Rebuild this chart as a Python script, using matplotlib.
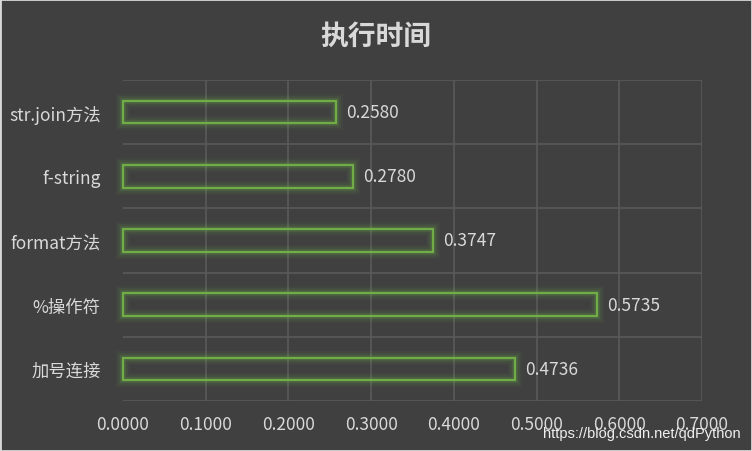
import matplotlib.pyplot as plt
import matplotlib.patheffects as pe
from matplotlib.patches import Rectangle

plt.rcParams['font.family'] = ['Noto Sans CJK SC', 'DejaVu Sans']

# ===== 数据 =====
methods = ["str.join方法", "f-string", "format方法", "%操作符", "加号连接"]
times = [0.2580, 0.2780, 0.3747, 0.5735, 0.4736]
xticks = [0.0, 0.1, 0.2, 0.3, 0.4, 0.5, 0.6, 0.7]

bg = "#404040"
grid = "#5a5a5a"
txt = "#d9d9d9"
green = "#70ad47"

fig = plt.figure(figsize=(7.52, 4.52), dpi=100, facecolor=bg)
fig.patches.append(Rectangle((0, 0), 1, 1, transform=fig.transFigure,
                             fill=False, edgecolor="#d9d9d9", linewidth=2))
ax = fig.add_axes([123 / 752, 50 / 452, 579 / 752, 321 / 452])
ax.set_facecolor(bg)

ypos = list(range(len(methods)))[::-1]
bars = ax.barh(ypos, times, height=0.35, facecolor="none",
               edgecolor=green, linewidth=1.6, zorder=3)
for b in bars:
    b.set_clip_on(False)
    b.set_path_effects([
        pe.Stroke(linewidth=10, foreground=green, alpha=0.06),
        pe.Stroke(linewidth=7, foreground=green, alpha=0.10),
        pe.Stroke(linewidth=4, foreground=green, alpha=0.18),
        pe.Normal(),
    ])

for y, v in zip(ypos, times):
    ax.text(v + 0.012, y, f"{v:.4f}", va="center", ha="left",
            color=txt, fontsize=12.5)

ax.set_xlim(0, 0.7)
ax.set_ylim(-0.5, len(methods) - 0.5)
ax.set_xticks(xticks)
ax.set_xticklabels([f"{t:.4f}" for t in xticks], color=txt, fontsize=12.5)
ax.set_yticks(ypos)
ax.set_yticklabels(methods, color=txt, fontsize=12.5)
ax.tick_params(axis="y", length=0, pad=16)
ax.tick_params(axis="x", length=0, pad=10)

for t in xticks[1:]:
    ax.axvline(t, color=grid, linewidth=1.2, zorder=1)
for k in range(len(methods) + 1):
    ax.axhline(k - 0.5, color=grid, linewidth=1.2, zorder=1)
for s in ax.spines.values():
    s.set_visible(False)

fig.text(0.5, 0.918, "执行时间", ha="center", va="center",
         color=txt, fontsize=20, fontweight="bold")
fig.text(0.985, 0.04, "https://blog.csdn.net/qdPython", ha="right",
         va="center", color="#f0f0f0", fontsize=10.5,
         family=["Liberation Sans", "DejaVu Sans"])

fig.savefig("out.png", dpi=100, facecolor=bg)
